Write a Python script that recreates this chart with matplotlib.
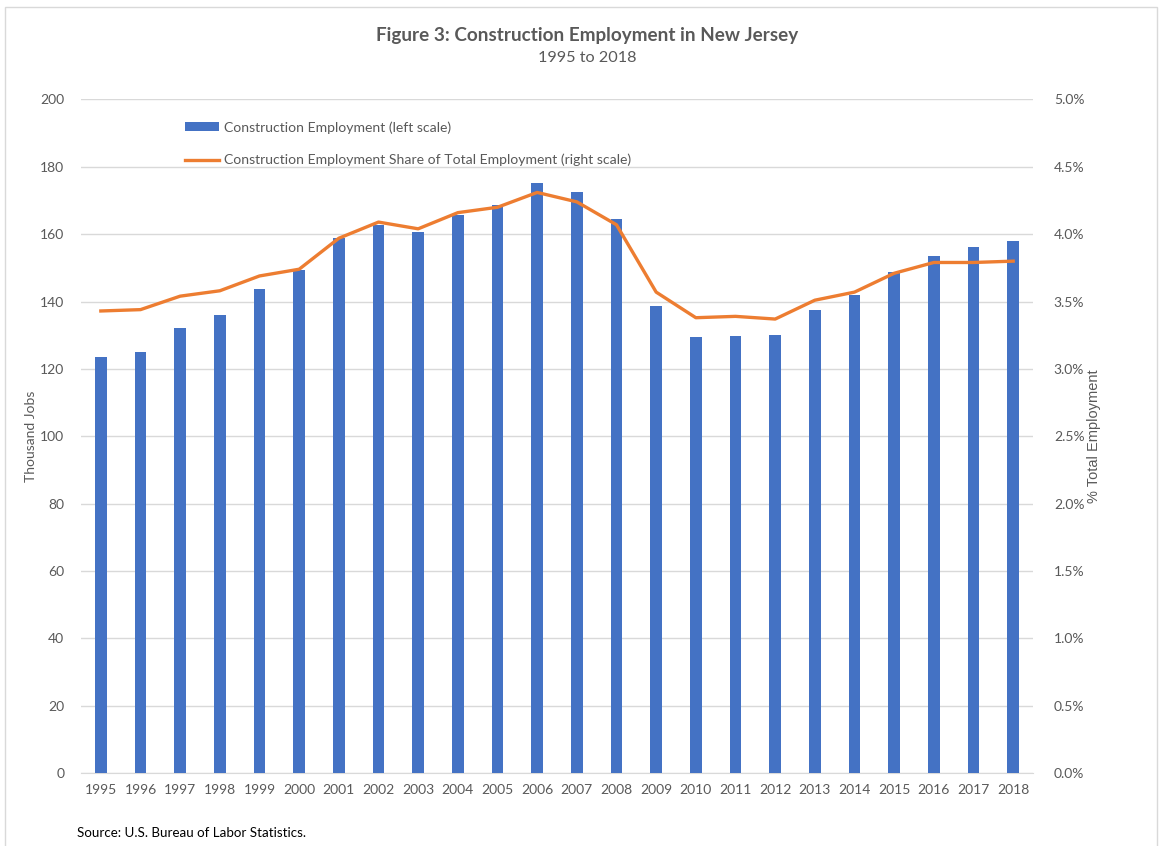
import numpy as np
import matplotlib
matplotlib.use('Agg')
import matplotlib.pyplot as plt
from matplotlib.patches import Rectangle
from matplotlib.ticker import FuncFormatter

# data
years = list(range(1995, 2019))
jobs = [123.5, 125.0, 132.0, 136.0, 143.8, 149.5, 159.0, 162.6, 160.8, 165.8, 168.8, 175.1,
        172.4, 164.6, 138.8, 129.6, 129.9, 130.2, 137.6, 141.8, 148.9, 153.6, 156.3, 158.1]
share = [3.43, 3.44, 3.54, 3.58, 3.69, 3.74, 3.97, 4.09, 4.04, 4.16, 4.20, 4.31,
         4.24, 4.07, 3.57, 3.38, 3.39, 3.37, 3.51, 3.57, 3.71, 3.79, 3.79, 3.80]
left_ticks = list(range(0, 201, 20))
right_ticks = [0.0, 0.5, 1.0, 1.5, 2.0, 2.5, 3.0, 3.5, 4.0, 4.5, 5.0]

plt.rcParams['font.family'] = ['Lato', 'DejaVu Sans']
grey = '#595959'
blue = '#4472C4'
orange = '#ED7D31'

W, H = 1162, 846
fig = plt.figure(figsize=(W / 100, H / 100), dpi=100)
ax = fig.add_axes([81 / W, 73 / H, (1033 - 81) / W, (773 - 99.5) / H])

x = np.arange(len(years))
bars = ax.bar(x, jobs, width=0.3, color=blue, zorder=3,
              label='Construction Employment (left scale)')
ax.set_xlim(-0.5, len(years) - 0.5)
ax.set_ylim(0, 200)
ax.set_yticks(left_ticks)
ax.set_xticks(x)
ax.set_xticklabels([str(y) for y in years])
ax.grid(axis='y', color='#D9D9D9', lw=1, zorder=0)
for s in ['top', 'right', 'left']:
    ax.spines[s].set_visible(False)
ax.spines['bottom'].set_color('#D9D9D9')
ax.tick_params(length=0, labelsize=10, labelcolor=grey)
ax.tick_params(axis='x', pad=8)
ax.tick_params(axis='y', pad=12)
ax.set_ylabel('Thousand Jobs', fontsize=10, color=grey, labelpad=2)

ax2 = ax.twinx()
line, = ax2.plot(x, share, color=orange, lw=2.4, zorder=4,
                 label='Construction Employment Share of Total Employment (right scale)')
ax2.set_ylim(0, 5)
ax2.set_yticks(right_ticks)
ax2.yaxis.set_major_formatter(FuncFormatter(lambda v, p: '%.1f%%' % v))
for s in ax2.spines.values():
    s.set_visible(False)
ax2.tick_params(length=0, labelsize=10, labelcolor=grey, pad=15)
ax2.set_ylabel('% Total Employment', fontsize=10.5, color=grey, labelpad=2,
               family=['Liberation Sans', 'DejaVu Sans'])

fig.legend([bars, line], [bars.get_label(), line.get_label()],
           loc='upper left', bbox_to_anchor=(178 / W, (H - 114) / H),
           frameon=False, borderpad=0, fontsize=10.1, labelcolor=grey,
           handlelength=2.45, handleheight=0.6, handletextpad=0.3, labelspacing=1.45)

fig.text(587 / W, 1 - 35 / H, 'Figure 3: Construction Employment in New Jersey',
         ha='center', va='center', fontsize=13.6, fontweight='bold', color=grey)
fig.text(587 / W, 1 - 58 / H, '1995 to 2018', ha='center', va='center',
         fontsize=11.7, color=grey)
fig.text(77 / W, 1 - 833 / H, 'Source: U.S. Bureau of Labor Statistics.',
         ha='left', va='center', fontsize=9.6, color='black')

# light chart border
fig.patches.append(Rectangle((5 / W, -0.01), (1157 - 5) / W, 1 - 7 / H + 0.01,
                             transform=fig.transFigure, fill=False,
                             edgecolor='#D9D9D9', lw=1))

fig.savefig('out.png', dpi=100)
